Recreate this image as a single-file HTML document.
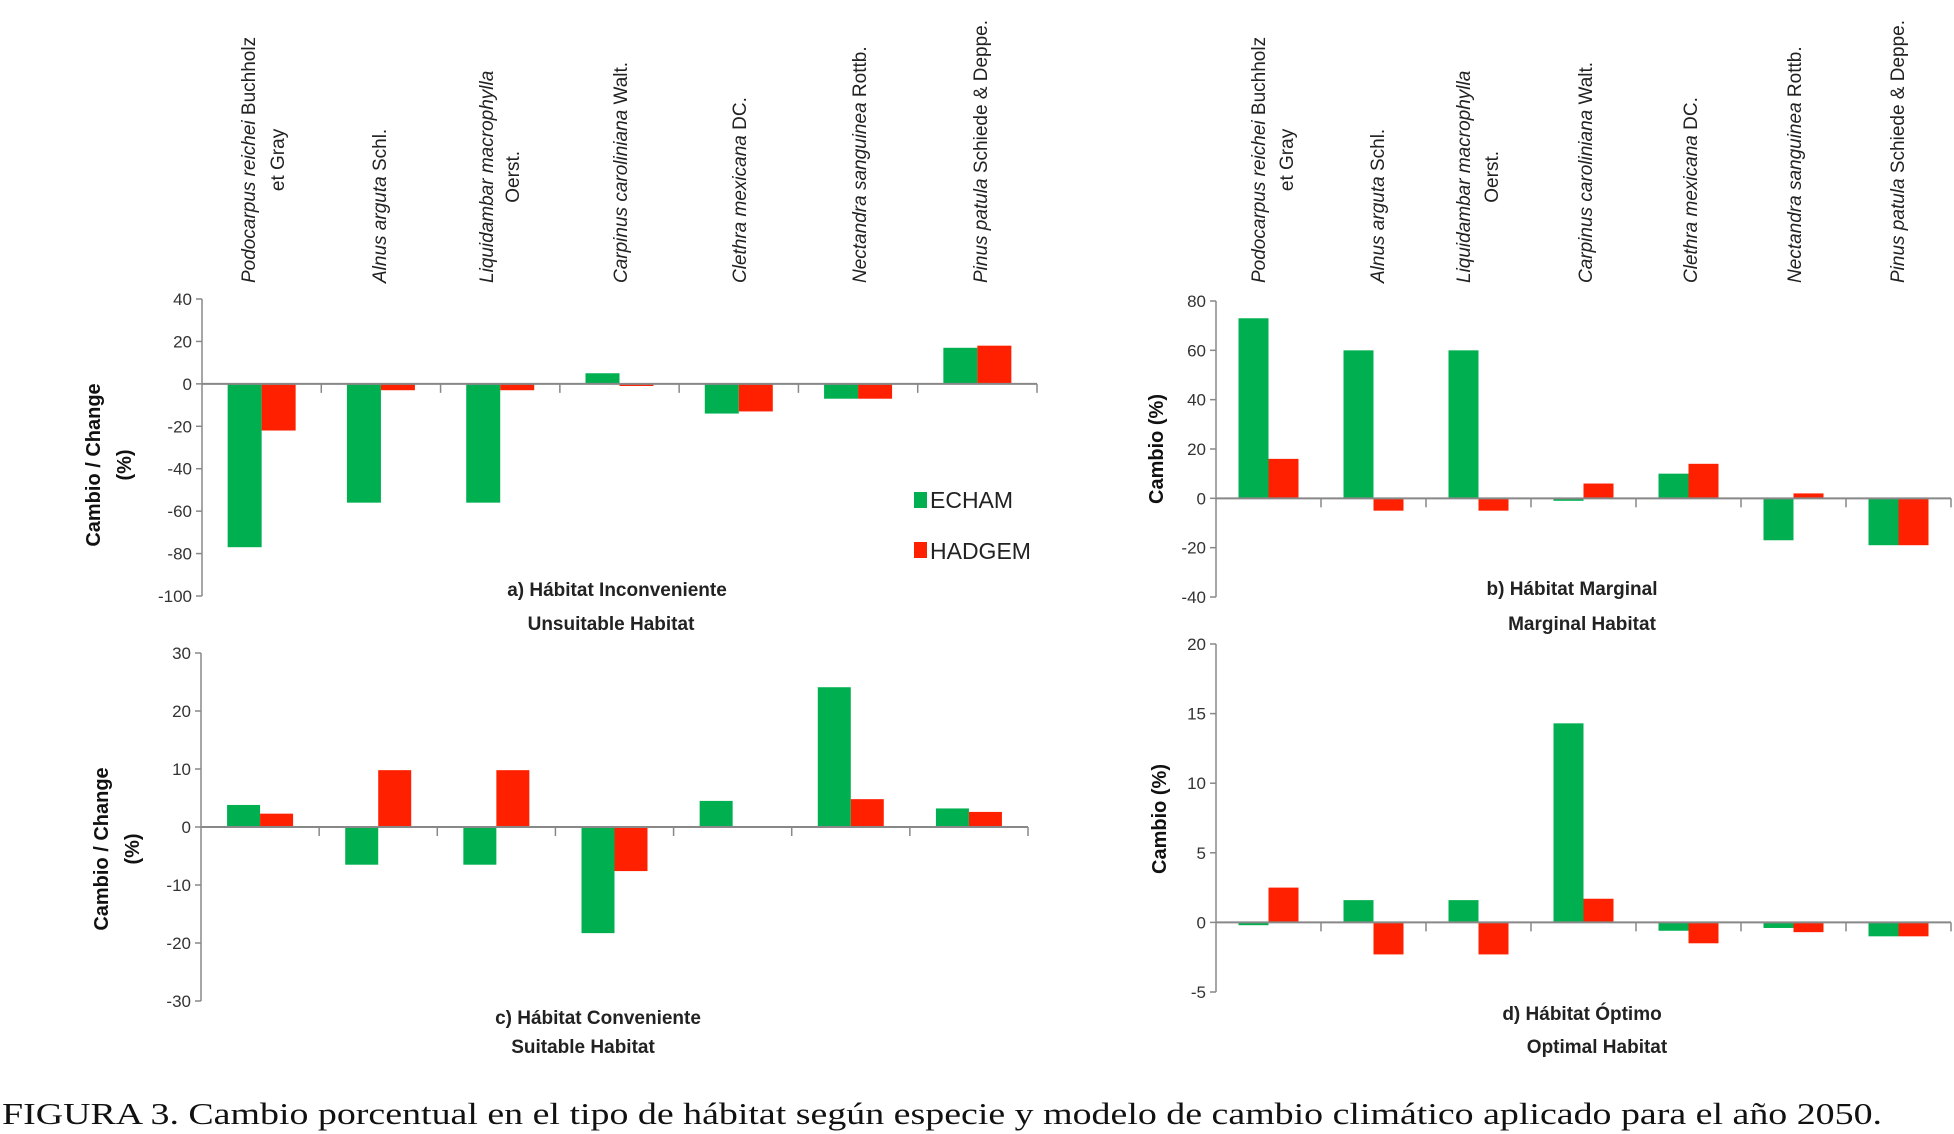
<!DOCTYPE html>
<html><head><meta charset="utf-8"><style>
html,body{margin:0;padding:0;background:#fff}
svg{display:block}
text{font-family:"Liberation Sans",sans-serif;fill:#222}
.tick{font-size:17px;fill:#333}
.lab{font-size:19px;fill:#222}
.ttl{font-size:19px;font-weight:bold;fill:#222}
.yt{font-size:20px;font-weight:bold;fill:#111}
</style></head><body>
<svg id="fig" width="1954" height="1134" viewBox="0 0 1954 1134" xmlns="http://www.w3.org/2000/svg">
<g id="lbls"></g>
<g id="charts"></g>
<g>
<rect x="914" y="492" width="13" height="16" fill="#00b050"/>
<text x="930" y="508" style="font-size:23px;fill:#222">ECHAM</text>
<rect x="914" y="542" width="13" height="16" fill="#ff2000"/>
<text x="930" y="559" style="font-size:23px;fill:#222">HADGEM</text>
</g>
<text x="2" y="1124" textLength="1880" lengthAdjust="spacingAndGlyphs" style="font-family:'Liberation Serif',serif;font-size:31px;fill:#111">FIGURA 3. Cambio porcentual en el tipo de hábitat según especie y modelo de cambio climático aplicado para el año 2050.</text>
</svg>
<script>
const categories = ["Podocarpus reichei", "Alnus arguta", "Liquidambar macrophylla", "Carpinus caroliniana", "Clethra mexicana", "Nectandra sanguinea", "Pinus patula"];
const echamA = [-77, -56, -56, 5, -14, -7, 17];
const hadgemA = [-22, -3, -3, -1, -13, -7, 18];
const ticksA = [40, 20, 0, -20, -40, -60, -80, -100];
const echamB = [73, 60, 60, -1, 10, -17, -19];
const hadgemB = [16, -5, -5, 6, 14, 2, -19];
const ticksB = [80, 60, 40, 20, 0, -20, -40];
const echamC = [3.8, -6.5, -6.5, -18.3, 4.5, 24.1, 3.2];
const hadgemC = [2.3, 9.8, 9.8, -7.6, 0, 4.8, 2.6];
const ticksC = [30, 20, 10, 0, -10, -20, -30];
const echamD = [-0.2, 1.6, 1.6, 14.3, -0.6, -0.4, -1.0];
const hadgemD = [2.5, -2.3, -2.3, 1.7, -1.5, -0.7, -1.0];
const ticksD = [20, 15, 10, 5, 0, -5];

const NS = "http://www.w3.org/2000/svg";
function mk(tag, attrs, parent){const e=document.createElementNS(NS,tag);for(const k in attrs)e.setAttribute(k,attrs[k]);parent.appendChild(e);return e;}

// species labels
const lblLines = [
 [["Podocarpus reichei","Buchholz"],"et Gray"],
 [["Alnus arguta","Schl."],null],
 [["Liquidambar macrophylla",""],"Oerst."],
 [["Carpinus caroliniana","Walt."],null],
 [["Clethra mexicana","DC."],null],
 [["Nectandra sanguinea","Rottb."],null],
 [["Pinus patula","Schiede & Deppe."],null]
];
function drawLabels(xs1, xs2){
 const g=document.getElementById('lbls');
 lblLines.forEach((L,i)=>{
  const t=mk('text',{class:'lab',transform:`translate(${xs1[i]+7},283) rotate(-90)`},g);
  
  
  const a=mk('tspan',{'font-style':'italic'},t);a.textContent=L[0][0];
  if(L[0][1]){const b=mk('tspan',{},t);b.textContent=' '+L[0][1];}
  if(L[1]){
   const len=t.getComputedTextLength();
   const t2=mk('text',{class:'lab','text-anchor':'middle',transform:`translate(${xs2[i]+7},${283-len/2}) rotate(-90)`},g);
   
   
   t2.textContent=L[1];
  }
 });
}
drawLabels([248,379,486,620,739,859,980],[277,0,512,0,0,0,0]);
drawLabels([1258,1377,1463,1585,1690,1794,1897],[1286,0,1491,0,0,0,0]);

function chart(name, x0, x1, yTop, yBot, vTop, vBot, ticks, e, h, bw){
 const g=mk('g',{},document.getElementById('charts'));
 
 
 const y=v=>yTop+(vTop-v)*(yBot-yTop)/(vTop-vBot);
 const cw=(x1-x0)/categories.length;
 categories.forEach((c,i)=>{
  const cx=x0+cw*(i+0.5);
  const ve=e[i], vh=h[i];
  const r1=mk('rect',{x:cx-bw,y:Math.min(y(ve),y(0)),width:bw,height:Math.abs(y(ve)-y(0)),fill:'#00b050'},g);
  
  
  const r2=mk('rect',{x:cx,y:Math.min(y(vh),y(0)),width:bw,height:Math.abs(y(vh)-y(0)),fill:'#ff2000'},g);
  
  
 });
 const ax=mk('line',{x1:x0,y1:yTop,x2:x0,y2:yBot,stroke:'#888','stroke-width':1.5},g);
 
 
 ticks.forEach(t=>{
  mk('line',{x1:x0-6,y1:y(t),x2:x0,y2:y(t),stroke:'#888','stroke-width':1.5},g);
  const tx=mk('text',{class:'tick',x:x0-10,y:y(t)+6,'text-anchor':'end'},g);
  
  
  tx.textContent=t;
 });
 const xa=mk('line',{x1:x0,y1:y(0),x2:x1,y2:y(0),stroke:'#888','stroke-width':2},g);
 
 
 for(let i=1;i<=categories.length;i++) mk('line',{x1:x0+cw*i,y1:y(0),x2:x0+cw*i,y2:y(0)+9,stroke:'#888','stroke-width':1.5},g);
 return g;
}
function txt(parent,name,cls,x,y,s,rot){
 const t=mk('text',{class:cls,'text-anchor':'middle',transform:`translate(${x},${y})`+(rot?' rotate(-90)':'')},parent);
 
 
 t.textContent=s;return t;
}
const gA=chart('chart-unsuitable-habitat',202,1037,299,596,40,-100,ticksA,echamA,hadgemA,34);
txt(gA,'y-axis-title','yt',100,465,'Cambio / Change',true);
txt(gA,'y-axis-title-unit','yt',131,465,'(%)',true);
txt(gA,'chart-title','ttl',617,596,'a) Hábitat Inconveniente');
txt(gA,'chart-subtitle','ttl',611,630,'Unsuitable Habitat');

const gB=chart('chart-marginal-habitat',1216,1951,301,597,80,-40,ticksB,echamB,hadgemB,30);
txt(gB,'y-axis-title','yt',1163,449,'Cambio  (%)',true);
txt(gB,'chart-title','ttl',1572,595,'b) Hábitat Marginal');
txt(gB,'chart-subtitle','ttl',1582,630,'Marginal Habitat');

const gC=chart('chart-suitable-habitat',201,1028,653,1001,30,-30,ticksC,echamC,hadgemC,33);
txt(gC,'y-axis-title','yt',108,849,'Cambio / Change',true);
txt(gC,'y-axis-title-unit','yt',139,849,'(%)',true);
txt(gC,'chart-title','ttl',598,1024,'c) Hábitat Conveniente');
txt(gC,'chart-subtitle','ttl',583,1053,'Suitable Habitat');

const gD=chart('chart-optimal-habitat',1216,1951,644,992,20,-5,ticksD,echamD,hadgemD,30);
txt(gD,'y-axis-title','yt',1166,819,'Cambio  (%)',true);
txt(gD,'chart-title','ttl',1582,1020,'d) Hábitat Óptimo');
txt(gD,'chart-subtitle','ttl',1597,1053,'Optimal Habitat');
</script>
</body></html>
